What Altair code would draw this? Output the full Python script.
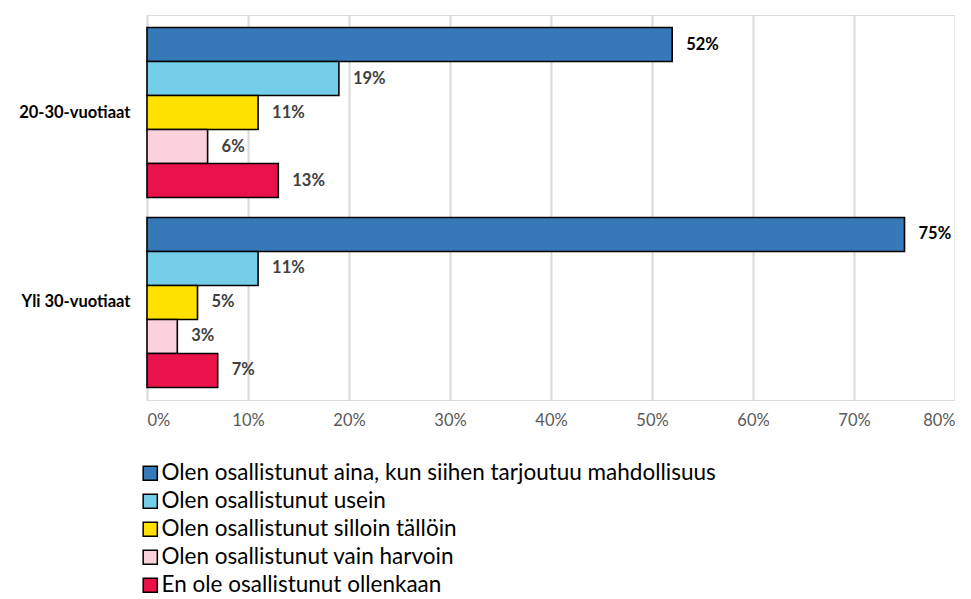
import altair as alt
import pandas as pd

groups = ["20-30-vuotiaat", "Yli 30-vuotiaat"]
series = [
    "Olen osallistunut aina, kun siihen tarjoutuu mahdollisuus",
    "Olen osallistunut usein",
    "Olen osallistunut silloin tällöin",
    "Olen osallistunut vain harvoin",
    "En ole osallistunut ollenkaan",
]
colors = ["#3679B9", "#75CEE9", "#FFE100", "#FBD2DB", "#E9124B"]
label_colors = ["#000000", "#404040", "#404040", "#404040", "#404040"]
values_2030 = [52, 19, 11, 6, 13]
values_yli30 = [75, 11, 5, 3, 7]

rows = []
for g, vals in zip(groups, [values_2030, values_yli30]):
    for i, (s, v) in enumerate(zip(series, vals)):
        rows.append({"group": g, "series": s, "order": i, "value": v / 100.0,
                     "label": f"{v}%", "lc": label_colors[i]})
df = pd.DataFrame(rows)

FONT = "Lato"

y_enc = alt.Y("group:N", sort=groups, title=None,
              scale=alt.Scale(paddingInner=0.105, paddingOuter=0.066),
              axis=alt.Axis(labelFontWeight="bold", labelFontSize=16.5, labelColor="#000000",
                            labelFont=FONT, ticks=False, domain=False, labelPadding=17,
                            minExtent=133, maxExtent=133, grid=False))
yoff = alt.YOffset("series:N", sort=series, scale=alt.Scale(paddingInner=0, paddingOuter=0))
x_enc = alt.X("value:Q", title=None,
              scale=alt.Scale(domain=[0, 0.8], nice=False),
              axis=alt.Axis(format=".0%", values=[0, 0.1, 0.2, 0.3, 0.4, 0.5, 0.6, 0.7, 0.8],
                            labelFontSize=16.5, labelColor="#595959", labelFont=FONT,
                            ticks=False, domain=False, labelPadding=12,
                            grid=True, gridColor="#D9D9D9", gridWidth=2))

bars = alt.Chart(df).mark_bar(stroke="#000000", strokeWidth=1.6).encode(
    y=y_enc, yOffset=yoff, x=x_enc,
    color=alt.Color("series:N", sort=series,
                    scale=alt.Scale(domain=series, range=colors),
                    legend=alt.Legend(title=None, orient="none", legendX=-8, legendY=447,
                                      direction="vertical", symbolType="square",
                                      symbolSize=200, symbolStrokeColor="#000000",
                                      symbolStrokeWidth=1.5, labelFontSize=22.5,
                                      labelFont=FONT, labelColor="#000000",
                                      rowPadding=5, labelOffset=0, padding=0,
                                      labelLimit=800)),
)

text = alt.Chart(df).mark_text(align="left", baseline="middle", dx=14,
                               fontWeight="bold", fontSize=16.5, font=FONT).encode(
    y=alt.Y("group:N", sort=groups), yOffset=alt.YOffset("series:N", sort=series),
    x="value:Q",
    text="label:N",
    color=alt.Color("lc:N", scale=None),
)

chart = alt.layer(bars, text).properties(
    width=808, height=385,
    padding={"left": 6, "top": 7, "right": 0, "bottom": 0},
).configure_view(stroke=None).configure(background="#FFFFFF")

chart.save("out.html", embed_options={"renderer": "svg", "actions": False})
